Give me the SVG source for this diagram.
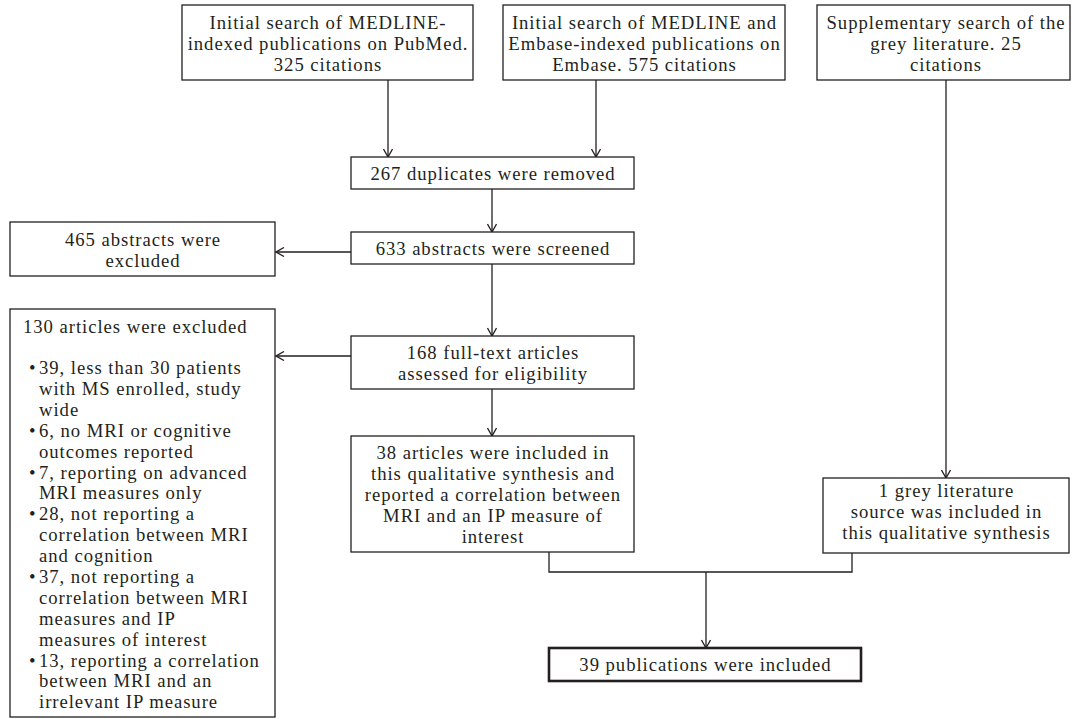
<svg xmlns="http://www.w3.org/2000/svg" width="1072" height="719" viewBox="0 0 1072 719">
<style>
.box{fill:#fff;stroke:#231f20;stroke-width:1.3}
.bold{fill:#fff;stroke:#231f20;stroke-width:2.6}
.t{font-family:"Liberation Serif","Times New Roman",serif;font-size:18.7px;letter-spacing:0.95px;fill:#231f20}
.c{text-anchor:middle}
.ln{fill:none;stroke:#231f20;stroke-width:1.3}
</style>
<defs>
<marker id="ah" viewBox="0 0 10 10" refX="9" refY="5" markerWidth="10" markerHeight="10" markerUnits="userSpaceOnUse" orient="auto">
<path d="M1,0.5 L9,5 L1,9.5" fill="none" stroke="#231f20" stroke-width="1.3"/>
</marker>
</defs>
<rect width="1072" height="719" fill="#fff"/>
<g id="connectors">
<line class="ln" x1="388" y1="80" x2="388" y2="157" marker-end="url(#ah)"/>
<line class="ln" x1="596" y1="80" x2="596" y2="157" marker-end="url(#ah)"/>
<line class="ln" x1="492" y1="189" x2="492" y2="232" marker-end="url(#ah)"/>
<line class="ln" x1="351" y1="252" x2="276" y2="252" marker-end="url(#ah)"/>
<line class="ln" x1="492" y1="264" x2="492" y2="336" marker-end="url(#ah)"/>
<line class="ln" x1="351" y1="356" x2="276" y2="356" marker-end="url(#ah)"/>
<line class="ln" x1="492" y1="389" x2="492" y2="436" marker-end="url(#ah)"/>
<line class="ln" x1="946" y1="80" x2="946" y2="478" marker-end="url(#ah)"/>
<polyline class="ln" points="549,552 549,572 852,572 852,553"/>
<line class="ln" x1="706" y1="572" x2="706" y2="648" marker-end="url(#ah)"/>
</g>
<g id="n1">
<rect class="box" x="182" y="5" width="291" height="75"/>
<text class="t c" x="328" y="29">Initial search of MEDLINE-</text>
<text class="t c" x="328" y="50">indexed publications on PubMed.</text>
<text class="t c" x="328" y="71">325 citations</text>
</g>
<g id="n2">
<rect class="box" x="503" y="5" width="282" height="75"/>
<text class="t c" x="644.5" y="29">Initial search of MEDLINE and</text>
<text class="t c" x="644.5" y="50">Embase-indexed publications on</text>
<text class="t c" x="644.5" y="71">Embase. 575 citations</text>
</g>
<g id="n3">
<rect class="box" x="817" y="5" width="253" height="75"/>
<text class="t c" x="946" y="29">Supplementary search of the</text>
<text class="t c" x="946" y="50">grey literature. 25</text>
<text class="t c" x="946" y="71">citations</text>
</g>
<g id="n4">
<rect class="box" x="351" y="157" width="283" height="32"/>
<text class="t c" x="493" y="180">267 duplicates were removed</text>
</g>
<g id="n5">
<rect class="box" x="351" y="232" width="283" height="32"/>
<text class="t c" x="493" y="255">633 abstracts were screened</text>
</g>
<g id="n6">
<rect class="box" x="10" y="222" width="265" height="54"/>
<text class="t c" x="143" y="245.5">465 abstracts were</text>
<text class="t c" x="143" y="266.5">excluded</text>
</g>
<g id="n7">
<rect class="box" x="351" y="336" width="283" height="53"/>
<text class="t c" x="493" y="359">168 full-text articles</text>
<text class="t c" x="493" y="380">assessed for eligibility</text>
</g>
<g id="n8">
<rect class="box" x="10" y="309" width="265" height="408"/>
<text class="t" x="23" y="333">130 articles were excluded</text>
<g class="t">
<text x="29" y="374">•</text><text x="39" y="374">39, less than 30 patients</text>
<text x="39" y="395">with MS enrolled, study</text>
<text x="39" y="416">wide</text>
<text x="29" y="437">•</text><text x="39" y="437">6, no MRI or cognitive</text>
<text x="39" y="457.5">outcomes reported</text>
<text x="29" y="478.5">•</text><text x="39" y="478.5">7, reporting on advanced</text>
<text x="39" y="499">MRI measures only</text>
<text x="29" y="520">•</text><text x="39" y="520">28, not reporting a</text>
<text x="39" y="541">correlation between MRI</text>
<text x="39" y="562">and cognition</text>
<text x="29" y="583">•</text><text x="39" y="583">37, not reporting a</text>
<text x="39" y="604">correlation between MRI</text>
<text x="39" y="624.5">measures and IP</text>
<text x="39" y="645.5">measures of interest</text>
<text x="29" y="666.5">•</text><text x="39" y="666.5">13, reporting a correlation</text>
<text x="39" y="687">between MRI and an</text>
<text x="39" y="708">irrelevant IP measure</text>
</g>
</g>
<g id="n9">
<rect class="box" x="351" y="436" width="283" height="116"/>
<text class="t c" x="493" y="459">38 articles were included in</text>
<text class="t c" x="493" y="480">this qualitative synthesis and</text>
<text class="t c" x="493" y="501">reported a correlation between</text>
<text class="t c" x="493" y="522">MRI and an IP measure of</text>
<text class="t c" x="493" y="543">interest</text>
</g>
<g id="n10">
<rect class="box" x="823" y="478" width="246" height="75"/>
<text class="t c" x="946.5" y="497">1 grey literature</text>
<text class="t c" x="946.5" y="518">source was included in</text>
<text class="t c" x="946.5" y="539">this qualitative synthesis</text>
</g>
<g id="n11">
<rect class="bold" x="549" y="648" width="312" height="33"/>
<text class="t c" x="705.5" y="671">39 publications were included</text>
</g>
</svg>
